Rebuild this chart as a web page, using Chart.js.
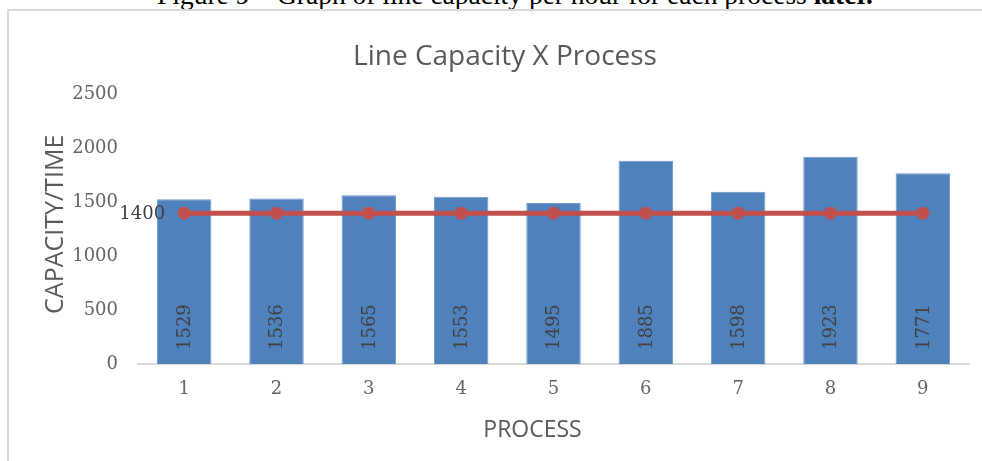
<!DOCTYPE html>
<html>
<head>
<meta charset="utf-8">
<script src="https://cdn.jsdelivr.net/npm/chart.js@4.4.1/dist/chart.umd.min.js"></script>
<style>
  html, body { margin: 0; padding: 0; background: #fff; overflow: hidden; }
  body { width: 982px; height: 461px; position: relative; }
  .caption {
    position: absolute; left: 0; top: -19px; width: 1030px; text-align: center;
    font: 27.5px/27px "Liberation Serif", serif; color: #000; white-space: nowrap;
  }
  .frame {
    position: absolute; left: 7px; top: 9px; width: 1000px; height: 480px;
    border: 2px solid #d9d9d9;
  }
  #chart { position: absolute; left: 0; top: 0; }
</style>
</head>
<body>
<div class="caption">Figure 9 – Graph of line capacity per hour for each process <b>later.</b></div>
<div class="frame"></div>
<canvas id="chart" width="982" height="461"></canvas>
<script>
// data
const processes = ['1', '2', '3', '4', '5', '6', '7', '8', '9'];
const capacity = [1529, 1536, 1565, 1553, 1495, 1885, 1598, 1923, 1771];
const target = [1400, 1400, 1400, 1400, 1400, 1400, 1400, 1400, 1400];
const yTicks = [0, 500, 1000, 1500, 2000, 2500];

const BAR_COLOR = '#4F81BD';
const LINE_COLOR = '#C0504D';
const TEXT_GRAY = '#595959';
const TICK_GRAY = '#646464';
const LABEL_GRAY = '#404040';
const SERIF = '"DejaVu Serif", serif';
const SANS = '"Open Sans", sans-serif';

// draws the value labels and both axis titles
const labelsPlugin = {
  id: 'excelLabels',
  afterDatasetsDraw (chart) {
    const ctx = chart.ctx;
    const area = chart.chartArea;

    ctx.save();
    ctx.fillStyle = LABEL_GRAY;
    ctx.font = '18px ' + SERIF;

    // rotated labels inside the bar base
    chart.getDatasetMeta(0).data.forEach((bar, i) => {
      ctx.save();
      ctx.translate(bar.x, area.bottom - 14);
      ctx.rotate(-Math.PI / 2);
      ctx.textAlign = 'left';
      ctx.textBaseline = 'middle';
      ctx.fillText(String(capacity[i]), 0, 1);
      ctx.restore();
    });

    // only the first point of the line carries a label
    const first = chart.getDatasetMeta(1).data[0];
    ctx.textAlign = 'right';
    ctx.textBaseline = 'middle';
    ctx.fillText(String(target[0]), first.x - 19, first.y + 1);

    // axis titles
    ctx.fillStyle = TEXT_GRAY;
    ctx.font = '23px ' + SANS;
    ctx.textAlign = 'center';
    ctx.textBaseline = 'middle';
    ctx.fillText('PROCESS', (area.left + area.right) / 2 - 21, 430);

    ctx.save();
    ctx.translate(area.left - 82, (area.top + area.bottom) / 2 - 5);
    ctx.rotate(-Math.PI / 2);
    ctx.font = '25px ' + SANS;
    ctx.fillText('CAPACITY/TIME', 0, 0);
    ctx.restore();

    ctx.restore();
  }
};

new Chart(document.getElementById('chart'), {
  type: 'bar',
  data: {
    labels: processes,
    datasets: [
      {
        type: 'bar',
        data: capacity,
        backgroundColor: BAR_COLOR,
        borderColor: '#6f98cc',
        borderWidth: 1,
        barPercentage: 0.59,
        categoryPercentage: 1,
        order: 2
      },
      {
        type: 'line',
        data: target,
        borderColor: LINE_COLOR,
        backgroundColor: LINE_COLOR,
        borderWidth: 5,
        pointRadius: 6.5,
        pointBackgroundColor: LINE_COLOR,
        pointBorderWidth: 0,
        order: 1
      }
    ]
  },
  options: {
    responsive: false,
    animation: false,
    devicePixelRatio: 1,
    layout: { padding: { left: 41, right: 13, top: 0, bottom: 0 } },
    plugins: {
      legend: { display: false },
      tooltip: { enabled: false },
      title: {
        display: true,
        text: 'Line Capacity X Process',
        color: TEXT_GRAY,
        font: { family: SANS, size: 28, weight: 'normal' },
        padding: { top: 40, bottom: 21 }
      }
    },
    scales: {
      x: {
        grid: { display: false, drawTicks: false },
        border: { display: true, color: '#d9d9d9', width: 2 },
        ticks: { color: TICK_GRAY, font: { family: SERIF, size: 18 }, padding: 15 },
        afterFit: scale => { scale.height = 97; }
      },
      y: {
        min: 0,
        max: 2500,
        grid: { display: false, drawTicks: false },
        border: { display: false },
        afterBuildTicks: scale => { scale.ticks = yTicks.map(v => ({ value: v })); },
        ticks: {
          color: TICK_GRAY,
          font: { family: SERIF, size: 18 },
          padding: 20,
          callback: value => String(value)
        },
        afterFit: scale => { scale.width = 97; }
      }
    }
  },
  plugins: [labelsPlugin]
});
</script>
</body>
</html>
